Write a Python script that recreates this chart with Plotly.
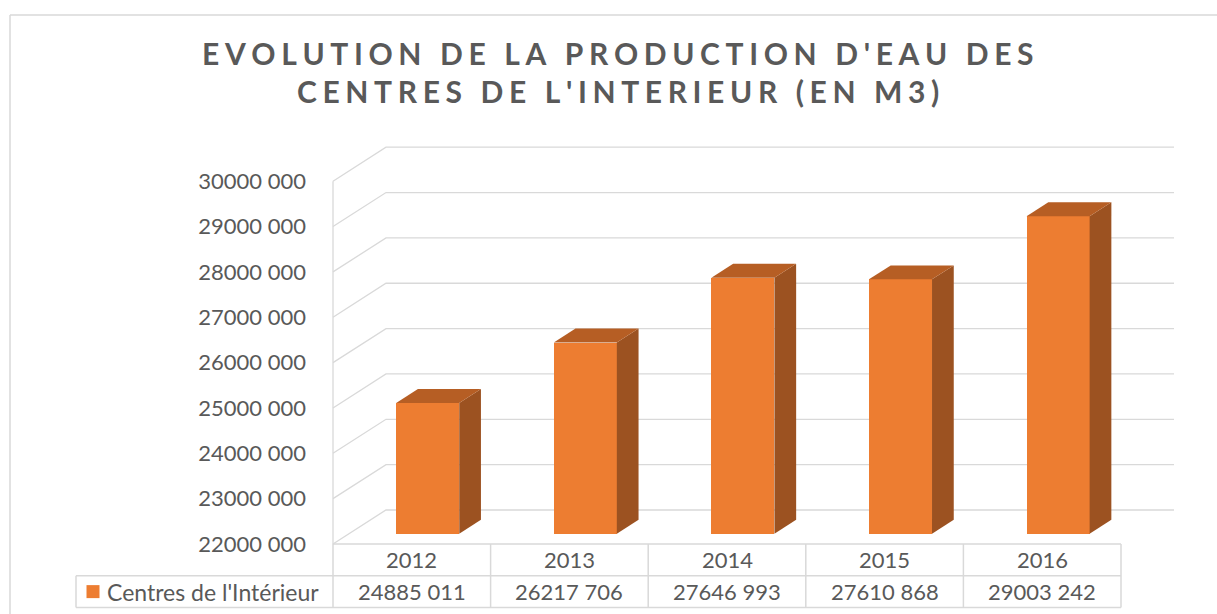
import plotly.graph_objects as go

# data
years = ["2012", "2013", "2014", "2015", "2016"]
production = [24885011, 26217706, 27646993, 27610868, 29003242]
tick_values = [22000000, 23000000, 24000000, 25000000, 26000000, 27000000, 28000000, 29000000, 30000000]
series_name = "Centres de l'Intérieur"
title_lines = ["EVOLUTION DE LA PRODUCTION D'EAU DES", "CENTRES DE L'INTERIEUR (EN M3)"]

W, H = 1217, 614
ORANGE = "#ED7D31"
SIDE = "#9C5221"
TOP = "#B65E24"
GRID = "#D9D9D9"
TEXT = "#595959"
FONT = "Lato"
FS = 22

# pixel scale of the fake 3D box (front wall)
X0_PX, CAT_PX = 333, 157.6
Y0_PX, MIO_PX = 544, 45.35
BASE = tick_values[0]
N = len(years)

x_range = [-X0_PX / CAT_PX, (W - X0_PX) / CAT_PX]
y_range = [BASE - (H - Y0_PX) / MIO_PX * 1e6, BASE + Y0_PX / MIO_PX * 1e6]

# depth of the box, in axis units
DX = 53 / CAT_PX
DY = 34 / MIO_PX * 1e6
F, B = 0.3, 0.71  # bar front / back depth fraction
BAR_W = 0.4
ROW = 0.7e6  # table row height in value units


def fmt(v):
    s = str(int(v))
    return s[:-3] + " " + s[-3:]


def spaced(s):
    return "\u2009\u200a".join(s)


fig = go.Figure()

shapes = []
# back wall + left wall gridlines
for t in tick_values:
    shapes.append(dict(type="path", xref="x", yref="y", layer="below",
                       path=f"M0,{t} L{DX},{t + DY} L{N + DX},{t + DY}",
                       line=dict(color=GRID, width=1.3)))
shapes.append(dict(type="line", xref="x", yref="y", layer="below",
                   x0=0, x1=0, y0=BASE, y1=tick_values[-1], line=dict(color=GRID, width=1.3)))

# data table grid
table_line = dict(color=GRID, width=1.5)
LEG_X = -257 / CAT_PX
shapes.append(dict(type="line", xref="x", yref="y", x0=0, x1=N, y0=BASE, y1=BASE, line=table_line))
for k in (1, 2):
    shapes.append(dict(type="line", xref="x", yref="y", x0=LEG_X, x1=N,
                       y0=BASE - k * ROW, y1=BASE - k * ROW, line=table_line))
for i in range(N + 1):
    shapes.append(dict(type="line", xref="x", yref="y", x0=i, x1=i,
                       y0=BASE, y1=BASE - 2 * ROW, line=table_line))
shapes.append(dict(type="line", xref="x", yref="y", x0=LEG_X, x1=LEG_X,
                   y0=BASE - ROW, y1=BASE - 2 * ROW, line=table_line))

# chart area border
shapes.append(dict(type="line", xref="paper", yref="paper", x0=10 / W, x1=10 / W, y0=0, y1=1 - 15 / H,
                   line=dict(color=GRID, width=1.5)))
shapes.append(dict(type="line", xref="paper", yref="paper", x0=10 / W, x1=1, y0=1 - 15 / H, y1=1 - 15 / H,
                   line=dict(color=GRID, width=1.5)))

# bar front faces
centers = [i + 0.5 + F * DX for i in range(N)]
fig.add_trace(go.Bar(
    x=centers, y=[v - BASE for v in production], base=BASE + F * DY, width=BAR_W,
    marker=dict(color=ORANGE, line=dict(width=0)), hoverinfo="skip", showlegend=False,
))

# side and top faces
d_x, d_y = (B - F) * DX, (B - F) * DY
for c, v in zip(centers, production):
    r, l = c + BAR_W / 2, c - BAR_W / 2
    lo, hi = BASE + F * DY, v + F * DY
    fig.add_trace(go.Scatter(
        x=[r, r + d_x, r + d_x, r, r], y=[lo, lo + d_y, hi + d_y, hi, lo],
        fill="toself", fillcolor=SIDE, mode="lines", line=dict(width=0),
        hoverinfo="skip", showlegend=False,
    ))
    fig.add_trace(go.Scatter(
        x=[l, r, r + d_x, l + d_x, l], y=[hi, hi, hi + d_y, hi + d_y, hi],
        fill="toself", fillcolor=TOP, mode="lines", line=dict(width=0),
        hoverinfo="skip", showlegend=False,
    ))

# legend key in the table
fig.add_trace(go.Scatter(
    x=[(93 - X0_PX) / CAT_PX], y=[BASE - 1.5 * ROW], mode="markers",
    marker=dict(symbol="square", size=13, color=ORANGE), hoverinfo="skip", showlegend=False,
))

annotations = []
for i, (yr, v) in enumerate(zip(years, production)):
    annotations.append(dict(x=i + 0.5, y=BASE - 0.5 * ROW, text=yr, showarrow=False,
                            font=dict(family=FONT, size=FS, color=TEXT)))
    annotations.append(dict(x=i + 0.5, y=BASE - 1.5 * ROW, text=fmt(v), showarrow=False,
                            font=dict(family=FONT, size=FS, color=TEXT)))
annotations.append(dict(x=(105 - X0_PX) / CAT_PX, y=BASE - 1.5 * ROW, text=series_name, showarrow=False,
                        xanchor="left", font=dict(family=FONT, size=FS + 1, color=TEXT)))
for k, line in enumerate(title_lines):
    annotations.append(dict(xref="paper", yref="paper", x=618 / W, y=1 - (53 + 38 * k) / H,
                            text=spaced(line), showarrow=False, yanchor="middle",
                            font=dict(family=FONT, size=30, color=TEXT, weight="bold")))

fig.update_layout(
    width=W, height=H,
    margin=dict(l=0, r=0, t=0, b=0),
    paper_bgcolor="white", plot_bgcolor="white",
    shapes=shapes, annotations=annotations,
    bargap=0, showlegend=False,
    xaxis=dict(range=x_range, visible=False, fixedrange=True),
    yaxis=dict(range=y_range, anchor="free", position=306 / W, showgrid=False, zeroline=False,
               showline=False, ticks="", tickvals=tick_values, ticktext=[fmt(t) for t in tick_values],
               tickfont=dict(family=FONT, size=FS, color=TEXT), fixedrange=True),
)

# the page is photographed at exactly the figure size, so drop the default body margin
fig.write_html("out.html", config={"displayModeBar": False},
               post_script="document.body.style.margin = '0';")
